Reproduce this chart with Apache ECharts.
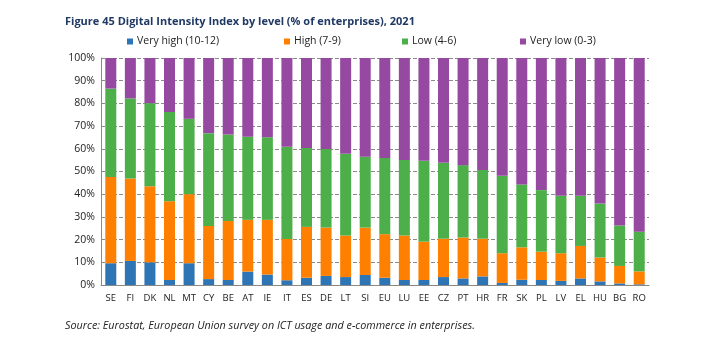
<!DOCTYPE html>
<html>
<head>
<meta charset="utf-8">
<script src="https://cdn.jsdelivr.net/npm/echarts@6/dist/echarts.min.js"></script>
<style>
  html, body { margin: 0; padding: 0; background: #fff; }
  #chart { width: 728px; height: 349px; }
</style>
</head>
<body>
<div id="chart"></div>
<script>
// Countries (and EU average) on the category axis
const countries = ['SE','FI','DK','NL','MT','CY','BE','AT','IE','IT','ES','DE','LT','SI','EU','LU','EE','CZ','PT','HR','FR','SK','PL','LV','EL','HU','BG','RO'];

// Share of enterprises (%) by Digital Intensity Index level
const veryHigh = [9.6,10.6,10.0,2.2,9.6,2.6,2.2,5.9,4.6,2.1,3.2,4.0,3.5,4.4,3.2,2.2,2.2,3.5,2.9,3.8,0.9,2.3,2.2,1.8,2.9,1.6,0.7,0.3];
const high     = [38.0,36.3,33.5,34.7,30.4,23.4,26.0,22.8,24.1,18.2,22.4,21.3,18.3,20.9,19.2,19.6,16.9,16.9,18.0,16.6,13.1,14.3,12.5,12.2,14.3,10.5,7.7,5.7];
const low      = [38.9,35.3,36.6,39.3,33.2,40.9,38.1,36.6,36.4,40.6,34.8,34.6,36.0,31.2,33.6,33.3,35.6,33.4,31.9,30.3,34.1,27.7,27.1,25.3,22.1,23.8,17.8,17.5];
const veryLow  = [13.5,17.8,19.9,23.8,26.8,33.1,33.7,34.7,34.9,39.1,39.6,40.1,42.2,43.5,44.0,44.9,45.3,46.2,47.2,49.3,51.9,55.7,58.2,60.7,60.7,64.1,73.8,76.5];

// Percentage ticks on the value axis
const yTicks = [0,10,20,30,40,50,60,70,80,90,100];

const seriesNames = ['Very high (10-12)','High (7-9)','Low (4-6)','Very low (0-3)'];
const seriesData = [veryHigh, high, low, veryLow];
const colors = ['#2E75B6','#FF8000','#4DAF4A','#9649A1'];
const legendLeft = [127, 284, 402, 520];

const font = '"Open Sans", "Liberation Sans", sans-serif';

const chart = echarts.init(document.getElementById('chart'), null, { renderer: 'canvas' });

chart.setOption({
  animation: false,
  backgroundColor: '#ffffff',
  title: [
    {
      text: 'Figure 45 Digital Intensity Index by level (% of enterprises), 2021',
      left: 60, top: 11,
      textStyle: { fontFamily: font, fontSize: 11, fontWeight: 'bold', color: '#1F3864' }
    },
    {
      text: 'Source: Eurostat, European Union survey on ICT usage and e-commerce in enterprises.',
      left: 60, top: 315,
      textStyle: { fontFamily: font, fontSize: 10.8, fontWeight: 'normal', fontStyle: 'italic', color: '#222' }
    }
  ],
  // one legend block per level so each entry sits at its own spot
  legend: seriesNames.map((name, i) => ({
    top: 36,
    left: legendLeft[i],
    padding: 0,
    itemWidth: 6, itemHeight: 6,
    icon: 'rect',
    textStyle: { fontFamily: font, fontSize: 10.5, color: '#222', padding: [0, 0, 0, -1] },
    data: [name]
  })),
  grid: { left: 101, right: 79, top: 58, bottom: 64 },
  xAxis: {
    type: 'category',
    data: countries,
    axisLine: { show: true, lineStyle: { color: '#888', width: 1 } },
    axisTick: { show: false },
    axisLabel: { fontFamily: font, fontSize: 9.5, color: '#222', margin: 8, interval: 0 }
  },
  yAxis: {
    type: 'value',
    min: 0, max: 100, interval: 10,
    axisLine: { show: true, lineStyle: { color: '#888', width: 1 } },
    axisTick: { show: false },
    splitLine: { show: true, lineStyle: { color: '#8a8a8a', type: [4, 2], width: 1 } },
    axisLabel: {
      fontFamily: font, fontSize: 10.5, color: '#222', margin: 6,
      formatter: v => yTicks.includes(v) ? v + '%' : ''
    }
  },
  series: seriesData.map((d, i) => ({
    name: seriesNames[i],
    type: 'bar',
    stack: 'total',
    data: d,
    barWidth: 11,
    itemStyle: { color: colors[i] }
  }))
});
</script>
</body>
</html>
